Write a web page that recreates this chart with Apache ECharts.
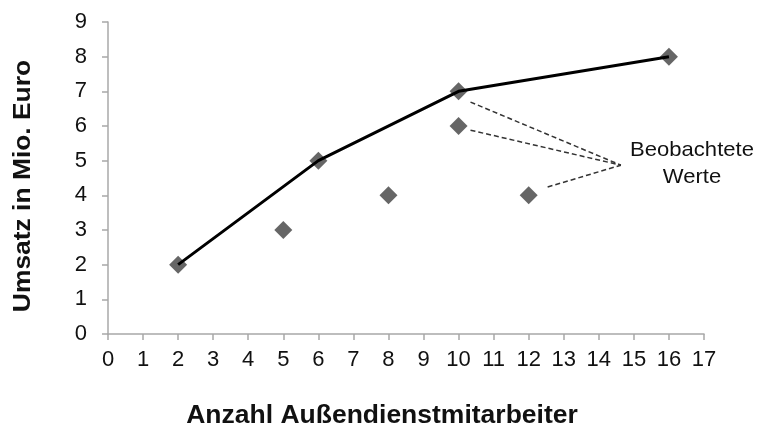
<!DOCTYPE html>
<html><head><meta charset="utf-8">
<script src="https://cdn.jsdelivr.net/npm/echarts@6/dist/echarts.min.js"></script>
<style>html,body{margin:0;padding:0;background:#fff}#c{width:757px;height:428px}</style>
</head><body><div id="c"></div>
<script>
var linePoints = [[2,2],[6,5],[10,7],[16,8]];
var observed = [[2,2],[5,3],[6,5],[8,4],[10,7],[10,6],[12,4],[16,8]];
var leader1 = [[10.34,6.69],[14.63,4.87]];
var leader2 = [[10.34,5.88],[14.63,4.87]];
var leader3 = [[12.54,4.24],[14.63,4.87]];
var xTitle = 'Anzahl Außendienstmitarbeiter';
var yTitle = 'Umsatz in Mio. Euro';
var annot = 'Beobachtete\nWerte';
var F = '"Liberation Sans", Arial, sans-serif';
var chart = echarts.init(document.getElementById('c'));
function leader(d){return {type:'line',data:d,symbol:'none',silent:true,lineStyle:{color:'#333',width:1.5,type:[5,3]},z:1};}
chart.setOption({
  animation:false,
  grid:{left:108,right:53,top:22,bottom:94},
  xAxis:{type:'value',min:0,max:17,interval:1,
    axisLine:{lineStyle:{color:'#a8a8a8',width:1.5}},
    axisTick:{show:true,length:6,lineStyle:{color:'#a8a8a8',width:1.5}},
    axisLabel:{color:'#111',fontSize:22,fontFamily:F,margin:15},
    splitLine:{show:false}},
  yAxis:{type:'value',min:0,max:9,interval:1,
    axisLine:{show:true,lineStyle:{color:'#a8a8a8',width:1.5}},
    axisTick:{show:true,length:6,lineStyle:{color:'#a8a8a8',width:1.5}},
    axisLabel:{color:'#111',fontSize:22,fontFamily:F,margin:21},
    splitLine:{show:false}},
  graphic:[
    {type:'text',x:23,y:186,rotation:Math.PI/2,scaleX:1.1,style:{text:yTitle,fill:'#111',font:'bold 24px "Liberation Sans", Arial, sans-serif',align:'center',verticalAlign:'middle'}},
    {type:'text',x:382,y:416,scaleX:1.06,style:{text:xTitle,fill:'#111',font:'bold 25px "Liberation Sans", Arial, sans-serif',align:'center',verticalAlign:'middle'}},
    {type:'text',x:692,y:164,scaleX:1.05,style:{text:annot,fill:'#111',font:'21px "Liberation Sans", Arial, sans-serif',align:'center',verticalAlign:'middle',lineHeight:27}}
  ],
  series:[
    leader(leader1),leader(leader2),leader(leader3),
    {type:'scatter',data:observed,symbol:'diamond',symbolSize:18,itemStyle:{color:'#404040'},z:2},
    {type:'line',data:linePoints,symbol:'none',lineStyle:{color:'#000',width:3},z:3}
  ]
});
</script></body></html>
